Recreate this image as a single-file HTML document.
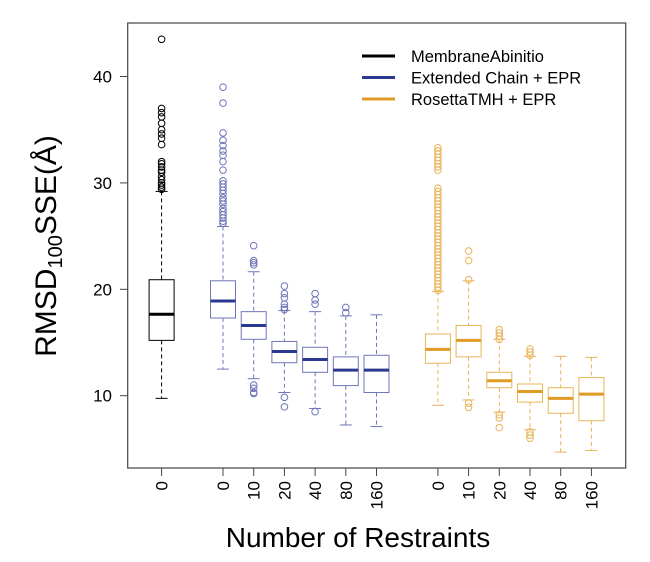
<!DOCTYPE html>
<html><head><meta charset="utf-8"><style>body{margin:0;background:#fff}svg{display:block}text{font-family:"Liberation Sans",sans-serif}</style></head>
<body>
<svg id="c" width="650" height="562"></svg>
<script>
const positions=[1,3,4,5,6,7,8,10,11,12,13,14,15];
const tickLabels=["0","0","10","20","40","80","160","0","10","20","40","80","160"];
const groups=[0,1,1,1,1,1,1,2,2,2,2,2,2];
const whiskLow=[9.75,12.5,11.6,10.3,8.8,7.25,7.1,9.1,9.6,8.45,6.8,4.7,4.85];
const q1=[15.2,17.3,15.3,13.1,12.2,10.95,10.3,13.05,13.65,10.75,9.4,8.35,7.65];
const medians=[17.65,18.9,16.6,14.15,13.4,12.4,12.4,14.35,15.2,11.4,10.4,9.75,10.15];
const q3=[20.9,20.8,17.9,15.1,14.55,13.65,13.8,15.8,16.6,12.2,11.1,10.75,11.7];
const whiskHigh=[29.2,25.9,21.65,18.0,17.9,17.5,17.6,19.8,20.8,15.3,13.7,13.7,13.6];
const outliers=[
[43.5,37,36.6,36.2,35.6,35,34.6,34.2,33.6,32,31.8,31.5,31.2,31,30.6,30.3,30,29.8,29.6,29.4],
[39,37.5,34.7,34,33.5,33,32.6,32,31.2,30.2,29.9,29.6,29.3,29,28.6,28.3,28,27.6,27.3,27,26.7,26.4,26.2],
[24.1,22.7,22.5,22.3,11.0,10.7,10.3,10.2],
[20.3,19.6,19.2,18.6,18.3,18.1,9.85,8.95],
[19.6,19.0,18.6,8.5],
[18.3,17.8],
[],
[33.3,33.0,32.7,32.4,32.1,31.8,31.5,31.2,29.5,29.2,28.9,28.6,28.3,28,27.7,27.4,27.1,26.8,26.5,26.2,25.9,25.6,25.3,25,24.7,24.4,24.1,23.8,23.5,23.2,22.9,22.6,22.3,22,21.7,21.4,21.1,20.8,20.5,20.2,19.9],
[23.6,22.7,20.9,9.3,8.9],
[16.2,15.9,15.6,15.3,8.2,7.9,7.0],
[14.4,14.1,13.8,6.6,6.3,6.0],
[],[]
];
const yTicks=[10,20,30,40];
const legendLabels=["MembraneAbinitio","Extended Chain + EPR","RosettaTMH + EPR"];
const boxCol=["#000","#6f76b9","#e8b458"];
const medCol=["#000","#2b3990","#e09a26"];
const NS="http://www.w3.org/2000/svg",svg=document.getElementById('c');
const X=p=>130.9+30.7*p, Y=v=>395.7-(v-10)*10.64;
function el(t,a,p){const e=document.createElementNS(NS,t);for(const k in a)e.setAttribute(k,a[k]);(p||svg).appendChild(e);return e;}
const frame=el('rect',{x:127.7,y:23,width:498,height:445,fill:'none',stroke:'#444','stroke-width':1.2});


yTicks.forEach(v=>{
 const g=el('g',{});
 
 
 el('line',{x1:120,x2:127.7,y1:Y(v),y2:Y(v),stroke:'#444'},g);
 const t=el('text',{x:112,y:Y(v)+6,'text-anchor':'end','font-size':17},g);t.textContent=v;
});
positions.forEach((p,i)=>{
 const x=X(p),g=el('g',{});
 
 
 const bc=boxCol[groups[i]],mc=medCol[groups[i]],hw=12.5;
 el('line',{x1:x,x2:x,y1:Y(whiskHigh[i]),y2:Y(q3[i]),stroke:bc,'stroke-dasharray':'4,3'},g);
 el('line',{x1:x,x2:x,y1:Y(q1[i]),y2:Y(whiskLow[i]),stroke:bc,'stroke-dasharray':'4,3'},g);
 el('line',{x1:x-6,x2:x+6,y1:Y(whiskHigh[i]),y2:Y(whiskHigh[i]),stroke:bc},g);
 el('line',{x1:x-6,x2:x+6,y1:Y(whiskLow[i]),y2:Y(whiskLow[i]),stroke:bc},g);
 el('rect',{x:x-hw,y:Y(q3[i]),width:2*hw,height:Y(q1[i])-Y(q3[i]),fill:'#fff',stroke:bc},g);
 el('line',{x1:x-hw,x2:x+hw,y1:Y(medians[i]),y2:Y(medians[i]),stroke:mc,'stroke-width':3},g);
 outliers[i].forEach(v=>el('circle',{cx:x,cy:Y(v),r:3.3,fill:'none',stroke:bc,'stroke-width':1},g));
 el('line',{x1:x,x2:x,y1:468,y2:476,stroke:'#444'},g);
 const t=el('text',{x:0,y:0,'text-anchor':'end','font-size':17,transform:`translate(${x+6},481) rotate(-90)`},g);t.textContent=tickLabels[i];
});
legendLabels.forEach((s,i)=>{
 const g=el('g',{});
 
 
 const y=56+i*21.5;
 el('line',{x1:362,x2:395,y1:y,y2:y,stroke:medCol[i],'stroke-width':3},g);
 const t=el('text',{x:411,y:y+6,'font-size':16.5},g);t.textContent=s;
});
const yt=el('text',{transform:'translate(56,246) rotate(-90)','text-anchor':'middle','font-size':30});


yt.innerHTML='RMSD<tspan font-size="20" dy="6">100</tspan><tspan dy="-6">SSE(Å)</tspan>';
const xt=el('text',{x:358,y:547,'text-anchor':'middle','font-size':28});


xt.textContent='Number of Restraints';
</script>
</body></html>
